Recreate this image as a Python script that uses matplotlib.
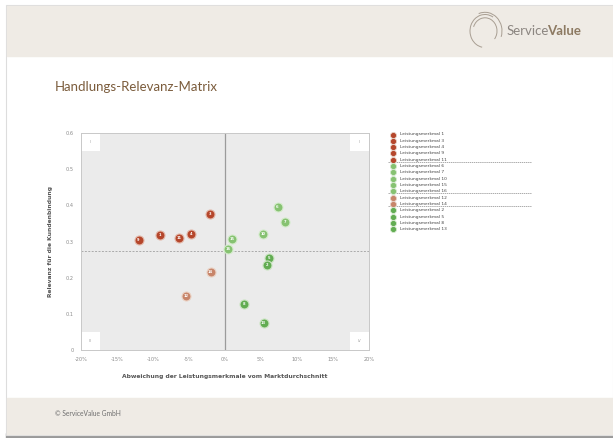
import matplotlib
matplotlib.use("Agg")
import matplotlib.pyplot as plt
from matplotlib.patches import Rectangle, Arc

# Daten
rot_ids = [9, 1, 11, 4, 3]
rot_x = [-12.0, -9.0, -6.4, -4.7, -2.1]
rot_y = [0.305, 0.319, 0.309, 0.322, 0.375]

hell_ids = [12, 14]
hell_x = [-5.45, -2.0]
hell_y = [0.149, 0.215]

gruen_ids = [6, 7, 10, 15, 16]
gruen_x = [7.3, 8.3, 5.3, 1.0, 0.46]
gruen_y = [0.396, 0.355, 0.320, 0.306, 0.278]

dgruen_ids = [5, 2, 8, 13]
dgruen_x = [6.05, 5.8, 2.6, 5.36]
dgruen_y = [0.253, 0.236, 0.127, 0.074]

mittel_relevanz = 0.273

legende_gruppen = [
    ([1, 3, 4, 9, 11], "#b5462b"),
    ([6, 7, 10, 15, 16], "#86c271"),
    ([12, 14], "#c7856a"),
    ([2, 5, 8, 13], "#62ac52"),
]

x_ticks = [-20, -15, -10, -5, 0, 5, 10, 15, 20]
y_ticks = [0, 0.1, 0.2, 0.3, 0.4, 0.5, 0.6]

W, H = 613, 438
fig = plt.figure(figsize=(W / 100, H / 100), dpi=100)
fig.patch.set_facecolor("white")

# Hintergrund / Folie in Pixelkoordinaten
bg = fig.add_axes([0, 0, 1, 1])
bg.set_xlim(0, W)
bg.set_ylim(H, 0)
bg.axis("off")
bg.add_patch(Rectangle((6, 433), 607, 5, color="#9a9a9a", zorder=0))
bg.add_patch(Rectangle((6, 5), 607, 430, facecolor="white", edgecolor="#dddddd", lw=0.8, zorder=1))
bg.add_patch(Rectangle((7, 6), 606, 50, color="#efebe5", zorder=2))
bg.add_patch(Rectangle((7, 398), 606, 36, color="#efebe5", zorder=2))

# Logo
for r, t1, t2 in [(15, 100, 300), (12, 200, 40), (17, 250, 20)]:
    bg.add_patch(Arc((485, 31), 2 * r, 2 * r * 1.1, theta1=t1, theta2=t2, color="#a89e92", lw=0.7, zorder=3))
t_service = bg.text(507, 31, "Service", fontsize=9.5, family="Lato", color="#8c8681", va="center", zorder=3)
fig.canvas.draw()
ext = t_service.get_window_extent()
bg.text(ext.x1 - 2.5, 31, "Value", fontsize=9.5, family="Lato", fontweight="bold", color="#8d7a62",
        va="center", zorder=3)

bg.text(55, 87, "Handlungs-Relevanz-Matrix", fontsize=9.5, family="Lato", color="#7b5c3c", va="center", zorder=3)
bg.text(55, 413, "© ServiceValue GmbH", fontsize=4.8, family="Lato", color="#6e6e6e", va="center", zorder=3)

# Legende
ly0, ldy = 134.5, 6.33
i = 0
for ids, col in legende_gruppen:
    for n in ids:
        y = ly0 + i * ldy
        bg.plot(393, y, "o", ms=4.4, mfc=col, mec="#e7d3c8" if col in ("#b5462b", "#c7856a") else "#d6ead0",
                mew=0.6, zorder=4)
        bg.text(400, y, f"Leistungsmerkmal {n}", fontsize=3.2, color="#444444", va="center", zorder=4)
        i += 1
    if i < 16:
        bg.plot([388, 531], [ly0 + (i - 1) * ldy + 2, ly0 + (i - 1) * ldy + 2],
                ls=(0, (2, 1)), color="#8a8a8a", lw=0.5, zorder=3)

# Matrix
ax = fig.add_axes([81 / W, 1 - 350 / H, 288 / W, 217 / H])
ax.set_zorder(5)
ax.set_facecolor("#ebebeb")
ax.set_xlim(-20, 20)
ax.set_ylim(0, 0.6)
for s in ax.spines.values():
    s.set_color("#c8c8c8")
    s.set_linewidth(0.7)

ax.set_xticks(x_ticks)
ax.set_xticklabels([f"{t}%" for t in x_ticks])
ax.set_yticks(y_ticks)
ax.set_yticklabels(["0"] + [f"{t:.1f}" for t in y_ticks[1:]])
ax.tick_params(length=0, labelsize=3.6, colors="#8a8a8a", pad=5)

ax.axvline(0, color="#9b9b9b", lw=0.9, zorder=2)
ax.axhline(mittel_relevanz, color="#aaaaaa", lw=0.7, ls=(0, (2, 1.5)), zorder=2)

# Quadranten-Kästchen
bw, bh = 2.6, 0.05
for (qx, qy), lab in zip([(-20, 0.6 - bh), (20 - bw, 0.6 - bh), (-20, 0), (20 - bw, 0)],
                         ["I", "II", "III", "IV"]):
    ax.add_patch(Rectangle((qx, qy), bw, bh, facecolor="white", edgecolor="none", zorder=1))
    ax.text(qx + bw / 2, qy + bh / 2, lab, fontsize=2.6, color="#999999", ha="center", va="center", zorder=2)

for xs, ys, ids, col, ec in [
    (rot_x, rot_y, rot_ids, "#b5462b", "#e2b7a8"),
    (hell_x, hell_y, hell_ids, "#c7856a", "#ead1c3"),
    (gruen_x, gruen_y, gruen_ids, "#86c271", "#d3ebca"),
    (dgruen_x, dgruen_y, dgruen_ids, "#62ac52", "#c9e4c0"),
]:
    ax.scatter(xs, ys, s=42, c=col, edgecolors=ec, linewidths=0.8, zorder=4)
    for x, y, n in zip(xs, ys, ids):
        ax.text(x, y, str(n), fontsize=2.6, color="white", fontweight="bold", ha="center", va="center", zorder=5)

ax.set_xlabel("Abweichung der Leistungsmerkmale vom Marktdurchschnitt", fontsize=4.3,
              color="#555555", fontweight="bold", labelpad=9)
ax.set_ylabel("Relevanz für die Kundenbindung", fontsize=4.3, color="#555555", fontweight="bold", labelpad=9)

fig.savefig("out.png", dpi=100)
